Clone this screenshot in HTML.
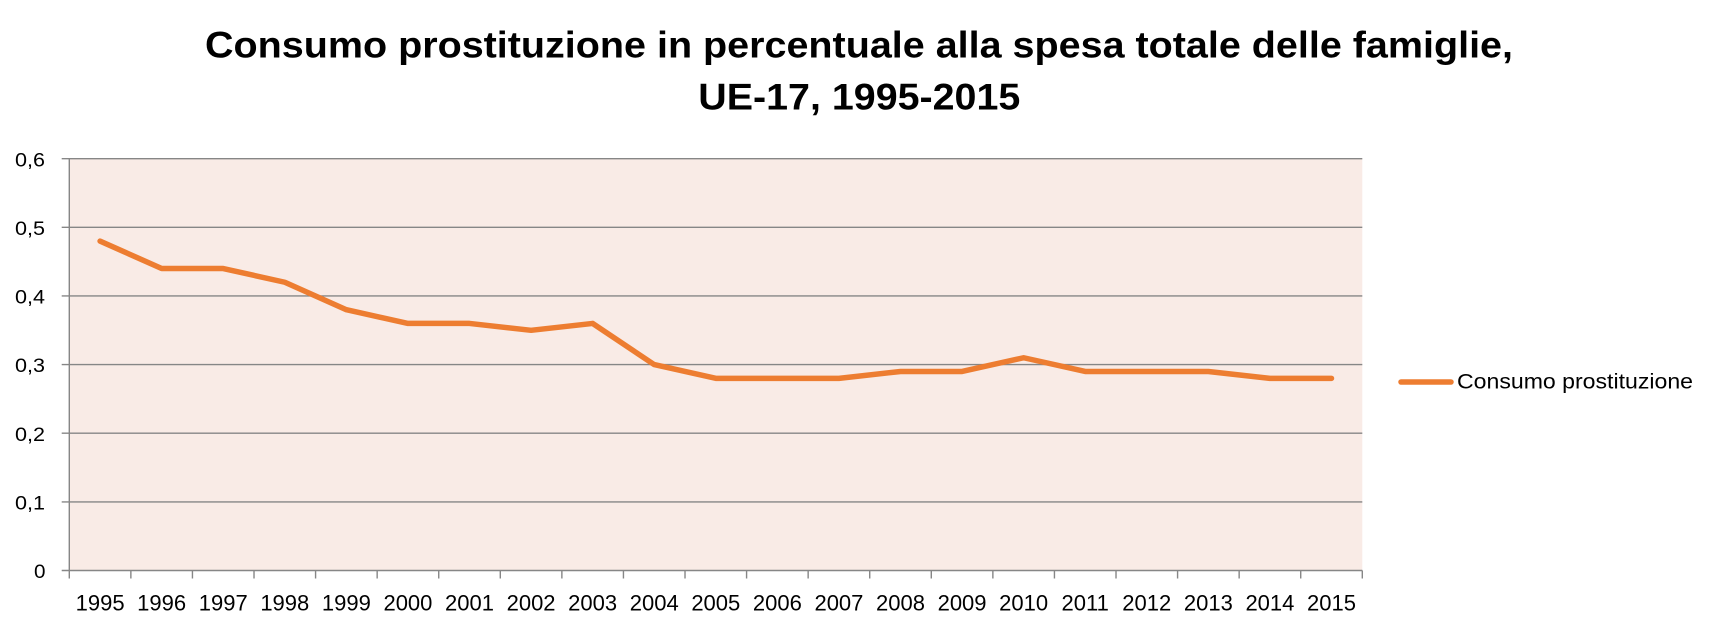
<!DOCTYPE html>
<html>
<head>
<meta charset="utf-8">
<style>
  html,body{margin:0;padding:0;background:#ffffff;}
  svg{display:block;}
  text{font-family:"Liberation Sans", sans-serif; fill:#000;}
</style>
</head>
<body>
<svg width="1719" height="632" viewBox="0 0 1719 632" xmlns="http://www.w3.org/2000/svg">
  <rect x="0" y="0" width="1719" height="632" fill="#ffffff"/>
  <!-- Title -->
  <text x="205" y="57.3" font-size="37" font-weight="bold" textLength="1308" lengthAdjust="spacingAndGlyphs">Consumo prostituzione in percentuale alla spesa totale delle famiglie,</text>
  <text x="698.3" y="109.3" font-size="37" font-weight="bold" textLength="322" lengthAdjust="spacingAndGlyphs">UE-17, 1995-2015</text>

  <!-- Plot background -->
  <rect x="69.3" y="158.7" width="1293" height="411.8" fill="#F9EBE6"/>

  <!-- Gridlines -->
  <g stroke="#868686" stroke-width="1.4">
    <line x1="61.7" y1="158.7" x2="1362.3" y2="158.7"/>
    <line x1="61.7" y1="227.3" x2="1362.3" y2="227.3"/>
    <line x1="61.7" y1="295.9" x2="1362.3" y2="295.9"/>
    <line x1="61.7" y1="364.6" x2="1362.3" y2="364.6"/>
    <line x1="61.7" y1="433.2" x2="1362.3" y2="433.2"/>
    <line x1="61.7" y1="501.9" x2="1362.3" y2="501.9"/>
    <line x1="61.7" y1="570.5" x2="1362.3" y2="570.5"/>
    <!-- y axis -->
    <line x1="69.3" y1="158.7" x2="69.3" y2="578.5"/>
    <!-- x ticks -->
    <line x1="130.87" y1="570.5" x2="130.87" y2="578.5"/>
    <line x1="192.44" y1="570.5" x2="192.44" y2="578.5"/>
    <line x1="254.01" y1="570.5" x2="254.01" y2="578.5"/>
    <line x1="315.58" y1="570.5" x2="315.58" y2="578.5"/>
    <line x1="377.16" y1="570.5" x2="377.16" y2="578.5"/>
    <line x1="438.73" y1="570.5" x2="438.73" y2="578.5"/>
    <line x1="500.30" y1="570.5" x2="500.30" y2="578.5"/>
    <line x1="561.87" y1="570.5" x2="561.87" y2="578.5"/>
    <line x1="623.44" y1="570.5" x2="623.44" y2="578.5"/>
    <line x1="685.01" y1="570.5" x2="685.01" y2="578.5"/>
    <line x1="746.58" y1="570.5" x2="746.58" y2="578.5"/>
    <line x1="808.15" y1="570.5" x2="808.15" y2="578.5"/>
    <line x1="869.72" y1="570.5" x2="869.72" y2="578.5"/>
    <line x1="931.29" y1="570.5" x2="931.29" y2="578.5"/>
    <line x1="992.87" y1="570.5" x2="992.87" y2="578.5"/>
    <line x1="1054.44" y1="570.5" x2="1054.44" y2="578.5"/>
    <line x1="1116.01" y1="570.5" x2="1116.01" y2="578.5"/>
    <line x1="1177.58" y1="570.5" x2="1177.58" y2="578.5"/>
    <line x1="1239.15" y1="570.5" x2="1239.15" y2="578.5"/>
    <line x1="1300.72" y1="570.5" x2="1300.72" y2="578.5"/>
    <line x1="1362.3" y1="570.5" x2="1362.3" y2="578.5"/>
  </g>

  <!-- Y labels -->
  <g font-size="19.5">
    <text x="15" y="166.3" textLength="30" lengthAdjust="spacingAndGlyphs">0,6</text>
    <text x="15" y="234.9" textLength="30" lengthAdjust="spacingAndGlyphs">0,5</text>
    <text x="15" y="303.5" textLength="30" lengthAdjust="spacingAndGlyphs">0,4</text>
    <text x="15" y="372.2" textLength="30" lengthAdjust="spacingAndGlyphs">0,3</text>
    <text x="15" y="440.8" textLength="30" lengthAdjust="spacingAndGlyphs">0,2</text>
    <text x="15" y="509.5" textLength="30" lengthAdjust="spacingAndGlyphs">0,1</text>
    <text x="34" y="578.1" textLength="11.5" lengthAdjust="spacingAndGlyphs">0</text>
  </g>

  <!-- X labels -->
  <g font-size="22" text-anchor="middle">
    <text x="100.09" y="610.7">1995</text>
    <text x="161.66" y="610.7">1996</text>
    <text x="223.23" y="610.7">1997</text>
    <text x="284.80" y="610.7">1998</text>
    <text x="346.37" y="610.7">1999</text>
    <text x="407.94" y="610.7">2000</text>
    <text x="469.51" y="610.7">2001</text>
    <text x="531.08" y="610.7">2002</text>
    <text x="592.65" y="610.7">2003</text>
    <text x="654.22" y="610.7">2004</text>
    <text x="715.79" y="610.7">2005</text>
    <text x="777.36" y="610.7">2006</text>
    <text x="838.93" y="610.7">2007</text>
    <text x="900.50" y="610.7">2008</text>
    <text x="962.07" y="610.7">2009</text>
    <text x="1023.64" y="610.7">2010</text>
    <text x="1085.21" y="610.7">2011</text>
    <text x="1146.78" y="610.7">2012</text>
    <text x="1208.35" y="610.7">2013</text>
    <text x="1269.92" y="610.7">2014</text>
    <text x="1331.49" y="610.7">2015</text>
  </g>

  <!-- Series -->
  <polyline fill="none" stroke="#ED7D31" stroke-width="5.5" stroke-linejoin="round" stroke-linecap="round"
    points="100.09,241.1 161.66,268.53 223.23,268.53 284.80,282.25 346.37,309.71 407.94,323.43 469.51,323.43 531.08,330.3 592.65,323.43 654.22,364.61 715.79,378.34 777.36,378.34 838.93,378.34 900.50,371.47 962.07,371.47 1023.64,357.75 1085.21,371.47 1146.78,371.47 1208.35,371.47 1269.92,378.34 1331.49,378.34"/>

  <!-- Legend -->
  <line x1="1401" y1="382" x2="1451" y2="382" stroke="#ED7D31" stroke-width="5.5" stroke-linecap="round"/>
  <text x="1457" y="388.6" font-size="21.5" textLength="236" lengthAdjust="spacingAndGlyphs">Consumo prostituzione</text>
</svg>
</body>
</html>
